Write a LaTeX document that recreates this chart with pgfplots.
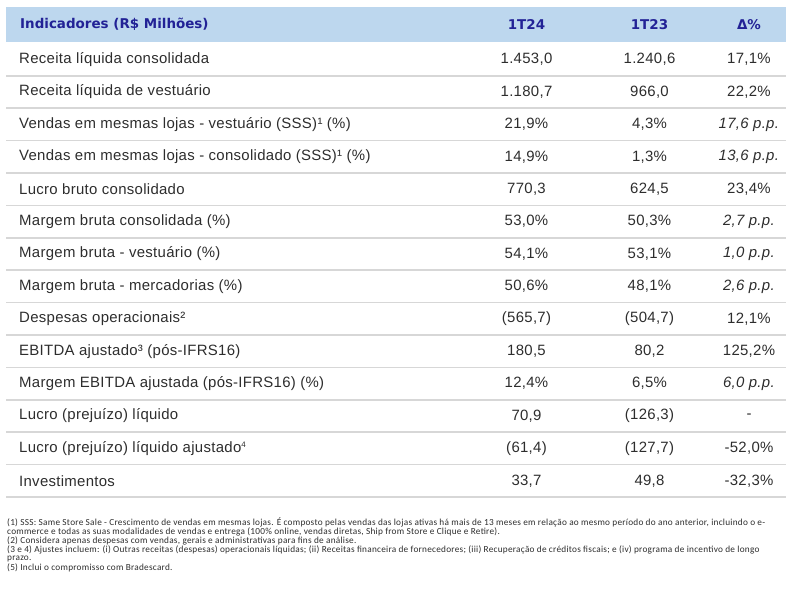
\documentclass[border=0pt]{standalone}
\usepackage{pgfplots}
\pgfplotsset{compat=1.18}
\usepackage{fontspec}
\setmainfont{Liberation Sans}
\newfontfamily\hfont{DejaVu Sans}
\newfontfamily\ffont[LetterSpace=2.7]{Carlito}
\newfontfamily\mfont[LetterSpace=2]{Liberation Sans}
\definecolor{band}{RGB}{189,215,238}
\definecolor{hdr}{RGB}{34,34,150}
\definecolor{txt}{RGB}{45,45,45}
\definecolor{sepc}{RGB}{215,215,215}
\newcommand{\mainf}{\mfont\fontsize{15}{16}\selectfont}
\protected\def\semi{;}
\begin{document}
\begin{tikzpicture}
\begin{axis}[width=791bp,height=602bp,scale only axis,
  xmin=0,xmax=791,ymin=0,ymax=602,y dir=reverse,
  axis lines=none,clip=false,point meta=explicit symbolic]
% full frame (keeps the page at the reference size)
\addplot[draw=none,forget plot] coordinates {(0,0) (791,602)};
% header band
\addplot[fill=band,draw=none,forget plot] coordinates {(6,7) (786,7) (786,42) (6,42)};
% separators
\addplot[sepc,line width=1.6bp] coordinates {(6,75.8) (786,75.8)};
\addplot[sepc,line width=1.6bp] coordinates {(6,108.2) (786,108.2)};
\addplot[sepc,line width=1.6bp] coordinates {(6,140.6) (786,140.6)};
\addplot[sepc,line width=1.6bp] coordinates {(6,173.0) (786,173.0)};
\addplot[sepc,line width=1.6bp] coordinates {(6,205.4) (786,205.4)};
\addplot[sepc,line width=1.6bp] coordinates {(6,237.8) (786,237.8)};
\addplot[sepc,line width=1.6bp] coordinates {(6,270.2) (786,270.2)};
\addplot[sepc,line width=1.6bp] coordinates {(6,302.6) (786,302.6)};
\addplot[sepc,line width=1.6bp] coordinates {(6,335.0) (786,335.0)};
\addplot[sepc,line width=1.6bp] coordinates {(6,367.4) (786,367.4)};
\addplot[sepc,line width=1.6bp] coordinates {(6,399.8) (786,399.8)};
\addplot[sepc,line width=1.6bp] coordinates {(6,432.2) (786,432.2)};
\addplot[sepc,line width=1.6bp] coordinates {(6,464.6) (786,464.6)};
\addplot[sepc,line width=1.6bp] coordinates {(6,497.0) (786,497.0)};
% header texts
\addplot[only marks,mark=none,nodes near coords,
  every node near coord/.append style={anchor=west,inner sep=0pt,text=hdr,font=\hfont\bfseries\fontsize{13.5}{15}\selectfont}]
  coordinates {(20,24.5) [{Indicadores (R\$ Milhões)}]};
\addplot[only marks,mark=none,nodes near coords,
  every node near coord/.append style={anchor=center,inner sep=0pt,text=hdr,font=\hfont\bfseries\fontsize{13.5}{15}\selectfont}]
  coordinates {(526.5,24.5) [1T24] (649.5,24.5) [1T23] (749,24.5) [{Δ\%}]};
% row labels
\addplot[only marks,mark=none,nodes near coords,
  every node near coord/.append style={anchor=west,inner sep=0pt,text=txt,font=\mainf}]
  coordinates {
  (19,59.6) [{Receita líquida consolidada}]
  (19,92.0) [{Receita líquida de vestuário}]
  (19,124.4) [{Vendas em mesmas lojas - vestuário (SSS)¹ (\%)}]
  (19,156.8) [{Vendas em mesmas lojas - consolidado (SSS)¹ (\%)}]
  (19,189.2) [{Lucro bruto consolidado}]
  (19,221.6) [{Margem bruta consolidada (\%)}]
  (19,254.0) [{Margem bruta - vestuário (\%)}]
  (19,286.4) [{Margem bruta - mercadorias (\%)}]
  (19,318.8) [{Despesas operacionais²}]
  (19,351.2) [{EBITDA ajustado³ (pós-IFRS16)}]
  (19,383.6) [{Margem EBITDA ajustada (pós-IFRS16) (\%)}]
  (19,416.0) [{Lucro (prejuízo) líquido}]
  (19,448.4) [{Lucro (prejuízo) líquido ajustado\textsuperscript{\fontsize{8}{8}\selectfont 4}}]
  (19,480.8) [{Investimentos}]
  };
% 1T24
\addplot[only marks,mark=none,nodes near coords,
  every node near coord/.append style={anchor=center,inner sep=0pt,text=txt,font=\mainf}]
  coordinates {
  (526.5,59.6) [{1.453,0}] (526.5,92.0) [{1.180,7}] (526.5,124.4) [{21,9\%}] (526.5,156.8) [{14,9\%}]
  (526.5,189.2) [{770,3}] (526.5,221.6) [{53,0\%}] (526.5,254.0) [{54,1\%}] (526.5,286.4) [{50,6\%}]
  (526.5,318.8) [{(565,7)}] (526.5,351.2) [{180,5}] (526.5,383.6) [{12,4\%}] (526.5,416.0) [{70,9}]
  (526.5,448.4) [{(61,4)}] (526.5,480.8) [{33,7}]
  };
% 1T23
\addplot[only marks,mark=none,nodes near coords,
  every node near coord/.append style={anchor=center,inner sep=0pt,text=txt,font=\mainf}]
  coordinates {
  (649.5,59.6) [{1.240,6}] (649.5,92.0) [{966,0}] (649.5,124.4) [{4,3\%}] (649.5,156.8) [{1,3\%}]
  (649.5,189.2) [{624,5}] (649.5,221.6) [{50,3\%}] (649.5,254.0) [{53,1\%}] (649.5,286.4) [{48,1\%}]
  (649.5,318.8) [{(504,7)}] (649.5,351.2) [{80,2}] (649.5,383.6) [{6,5\%}] (649.5,416.0) [{(126,3)}]
  (649.5,448.4) [{(127,7)}] (649.5,480.8) [{49,8}]
  };
% Delta
\addplot[only marks,mark=none,nodes near coords,
  every node near coord/.append style={anchor=center,inner sep=0pt,text=txt,font=\mainf}]
  coordinates {
  (749,59.6) [{17,1\%}] (749,92.0) [{22,2\%}] (749,124.4) [{\textit{17,6 p.p.}}] (749,156.8) [{\textit{13,6 p.p.}}]
  (749,189.2) [{23,4\%}] (749,221.6) [{\textit{2,7 p.p.}}] (749,254.0) [{\textit{1,0 p.p.}}] (749,286.4) [{\textit{2,6 p.p.}}]
  (749,318.8) [{12,1\%}] (749,351.2) [{125,2\%}] (749,383.6) [{\textit{6,0 p.p.}}] (749,416.0) [{-}]
  (749,448.4) [{-52,0\%}] (749,480.8) [{-32,3\%}]
  };
% footnotes
\addplot[only marks,mark=none,nodes near coords,
  every node near coord/.append style={anchor=west,inner sep=0pt,text=txt,font=\ffont\fontsize{9.3}{9}\selectfont}]
  coordinates {
  (7,522.5) [{(1) SSS: Same Store Sale - Crescimento de vendas em mesmas lojas. É composto pelas vendas das lojas ativas há mais de 13 meses em relação ao mesmo período do ano anterior, incluindo o e-}]
  (7,531.6) [{commerce e todas as suas modalidades de vendas e entrega (100\% online, vendas diretas, Ship from Store e Clique e Retire).}]
  (7,540.7) [{(2) Considera apenas despesas com vendas, gerais e administrativas para fins de análise.}]
  (7,549.8) [{(3 e 4) Ajustes incluem: (i) Outras receitas (despesas) operacionais líquidas\semi{} (ii) Receitas financeira de fornecedores\semi{} (iii) Recuperação de créditos fiscais\semi{} e (iv) programa de incentivo de longo}]
  (7,558.9) [{prazo.}]
  (7,568) [{(5) Inclui o compromisso com Bradescard.}]
  };
\end{axis}
\end{tikzpicture}
\end{document}
